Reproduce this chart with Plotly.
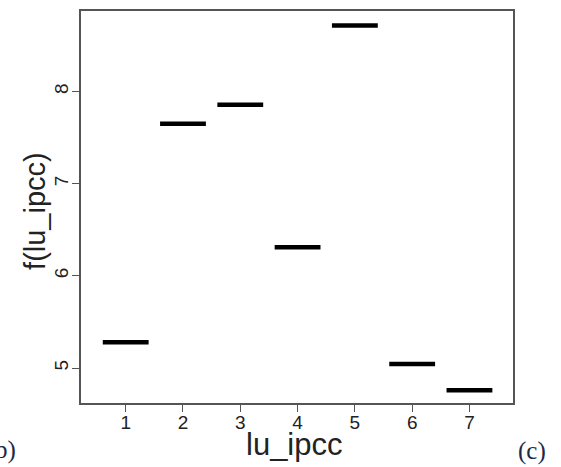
import plotly.graph_objects as go

categories = [1, 2, 3, 4, 5, 6, 7]
values = [5.28, 7.65, 7.855, 6.31, 8.715, 5.045, 4.76]
x_tick_labels = ["1", "2", "3", "4", "5", "6", "7"]
y_tick_vals = [5, 6, 7, 8]

half = 0.4
xs, ys = [], []
for c, v in zip(categories, values):
    xs += [c - half, c + half, None]
    ys += [v, v, None]

fig = go.Figure()
fig.add_trace(go.Scatter(x=xs, y=ys, mode="lines",
                         line=dict(color="black", width=4.5),
                         hoverinfo="skip", showlegend=False))

axis_common = dict(showgrid=False, zeroline=False, showline=True, mirror=True,
                   linecolor="#555555", linewidth=1.5, ticks="outside",
                   ticklen=7, tickwidth=1.2, tickcolor="#555555",
                   tickfont=dict(family="Liberation Sans", size=19, color="#222222"))

fig.update_layout(
    width=561, height=467,
    margin=dict(l=81, r=48, t=9, b=64),
    paper_bgcolor="white", plot_bgcolor="white",
    xaxis=dict(range=[0.22, 7.76], tickvals=categories, ticktext=x_tick_labels,
               ticklabelstandoff=-6, **axis_common),
    yaxis=dict(range=[4.622, 8.873], tickvals=y_tick_vals, tickangle=-90,
               ticklabelstandoff=-3, **axis_common),
)

fig.add_annotation(text="lu_ipcc", xref="paper", yref="paper", x=0.495, y=-0.107,
                   yanchor="middle", xanchor="center", showarrow=False,
                   font=dict(family="Liberation Sans", size=31, color="#222222"))
fig.add_annotation(text="f(lu_ipcc)", xref="paper", yref="paper", x=-0.1065, y=0.49,
                   textangle=-90, xanchor="center", yanchor="middle", showarrow=False,
                   font=dict(family="Liberation Sans", size=29, color="#222222"))
fig.add_annotation(text="b)", xref="paper", yref="paper", x=-0.1458, y=-0.119,
                   xanchor="right", yanchor="middle", showarrow=False,
                   font=dict(family="Liberation Serif", size=25, color="#1b2a48"))
fig.add_annotation(text="(c)", xref="paper", yref="paper", x=1.007, y=-0.122,
                   xanchor="left", yanchor="middle", showarrow=False,
                   font=dict(family="Liberation Serif", size=25, color="#1b2a48"))

fig.write_html("out.html", config={"displayModeBar": False},
               post_script="document.body.style.margin='0';")
